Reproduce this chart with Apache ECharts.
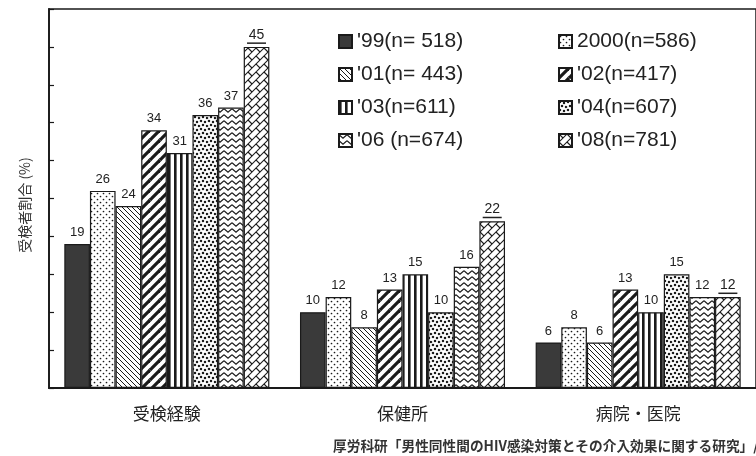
<!DOCTYPE html>
<html>
<head>
<meta charset="utf-8">
<script src="https://cdn.jsdelivr.net/npm/echarts@6/dist/echarts.min.js"></script>
<style>
html,body{margin:0;padding:0;background:#fff;}
#chart{width:756px;height:456px;}
</style>
</head>
<body>
<div id="chart"></div>
<script>
// ---- data ----
const categories = ['受検経験', '保健所', '病院・医院'];
const seriesNames = ["'99(n= 518)", "2000(n=586)", "'01(n= 443)", "'02(n=417)", "'03(n=611)", "'04(n=607)", "'06 (n=674)", "'08(n=781)"];
const v99 = [19, 10, 6];
const v00 = [26, 12, 8];
const v01 = [24, 8, 6];
const v02 = [34, 13, 13];
const v03 = [31, 15, 10];
const v04 = [36, 10, 15];
const v06 = [37, 16, 12];
const v08 = [45, 22, 12];
const yTicks = [0, 5, 10, 15, 20, 25, 30, 35, 40, 45, 50];
const yLabel = '受検者割合 (%)';
const sourceText = '厚労科研「男性同性間のHIV感染対策とその介入効果に関する研究」/';

// ---- patterns ----
const INK = '#1a1a1a';
function pattern(w, h, draw) {
  const c = document.createElement('canvas');
  c.width = w; c.height = h;
  const ctx = c.getContext('2d');
  ctx.fillStyle = '#fff';
  ctx.fillRect(0, 0, w, h);
  ctx.strokeStyle = INK;
  ctx.fillStyle = INK;
  for (const dx of [-w, 0, w]) {
    for (const dy of [-h, 0, h]) {
      ctx.save();
      ctx.translate(dx, dy);
      draw(ctx, w, h);
      ctx.restore();
    }
  }
  return { image: c, repeat: 'repeat' };
}
function dot(ctx, x, y, r) { ctx.beginPath(); ctx.arc(x, y, r, 0, Math.PI * 2); ctx.fill(); }

const p99 = '#3a3a3a';
const p00 = pattern(6, 6, (ctx) => { dot(ctx, 1.5, 1.5, 0.85); dot(ctx, 4.5, 4.5, 0.85); });
const p01 = pattern(5, 5, (ctx) => { ctx.lineWidth = 1; ctx.beginPath(); ctx.moveTo(0, 0); ctx.lineTo(5, 5); ctx.stroke(); });
const p02 = pattern(10, 10, (ctx) => { ctx.lineWidth = 3.2; ctx.beginPath(); ctx.moveTo(0, 10); ctx.lineTo(10, 0); ctx.stroke(); });
const p03 = pattern(6, 6, (ctx) => { ctx.fillRect(0, 0, 2.6, 6); });
const p04 = pattern(8, 8, (ctx) => { dot(ctx, 1, 1, 1.25); dot(ctx, 5, 2, 1.25); dot(ctx, 3, 5, 1.25); dot(ctx, 7, 6, 1.25); });
const p06 = pattern(8, 6, (ctx) => { ctx.lineWidth = 1.2; ctx.beginPath(); ctx.moveTo(0, 0.8); ctx.lineTo(4, 4.2); ctx.lineTo(8, 0.8); ctx.stroke(); });
const p08 = (function () {
  const T = 32;
  const c = document.createElement('canvas');
  c.width = T; c.height = T;
  const ctx = c.getContext('2d');
  ctx.fillStyle = '#fff'; ctx.fillRect(0, 0, T, T);
  ctx.strokeStyle = INK; ctx.lineWidth = 1.1;
  for (let k = -10; k <= 20; k++) {
    const u = 8 * k;
    ctx.beginPath(); ctx.moveTo(-40, u + 40); ctx.lineTo(80, u - 80); ctx.stroke();
    const par = ((k % 2) + 2) % 2;
    for (let m = -10; m <= 10; m++) {
      const v = 8 * par + 16 * m;
      ctx.beginPath();
      ctx.moveTo((u + v) / 2, (u - v) / 2);
      ctx.lineTo((u + 8 + v) / 2, (u + 8 - v) / 2);
      ctx.stroke();
    }
  }
  return { image: c, repeat: 'repeat' };
})();

const fills = [p99, p00, p01, p02, p03, p04, p06, p08];
const values = [v99, v00, v01, v02, v03, v04, v06, v08];

const FONT = "'Liberation Sans', 'Noto Sans CJK JP', sans-serif";
const CJK = "'Noto Sans CJK JP', sans-serif";

const series = seriesNames.map((name, i) => {
  const isLast = i === seriesNames.length - 1;
  return {
    name: name,
    type: 'bar',
    data: values[i],
    barGap: '0%',
    barCategoryGap: '13%',
    itemStyle: { color: fills[i], borderColor: INK, borderWidth: 1.2 },
    label: isLast ? {
      show: true, position: 'top', distance: 3,
      formatter: (p) => '{v|' + p.value + '}\n{u|}',
      rich: {
        v: { fontSize: 14, fontFamily: FONT, color: '#222', lineHeight: 15 },
        u: { width: 19, height: 1.5, backgroundColor: '#222' }
      }
    } : {
      show: true, position: 'top', distance: 5,
      fontSize: 13, fontFamily: FONT, color: '#222'
    }
  };
});

const legendCommon = {
  orient: 'vertical',
  itemWidth: 13, itemHeight: 13,
  itemGap: 12,
  icon: 'rect',
  textStyle: { fontSize: 21, fontFamily: FONT, color: '#222', padding: [0, 0, 0, 0] },
  selectedMode: false
};

const chart = echarts.init(document.getElementById('chart'), null, { renderer: 'canvas' });
chart.setOption({
  animation: false,
  backgroundColor: '#fff',
  grid: {
    left: 49, right: -2, top: 9, bottom: 68,
    show: true, borderColor: INK, borderWidth: 1.5, backgroundColor: 'transparent'
  },
  legend: [
    Object.assign({}, legendCommon, { data: [seriesNames[0], seriesNames[2], seriesNames[4], seriesNames[6]], left: 333, top: 26 }),
    Object.assign({}, legendCommon, { data: [seriesNames[1], seriesNames[3], seriesNames[5], seriesNames[7]], left: 553, top: 26 })
  ],
  xAxis: {
    type: 'category',
    data: categories,
    axisLine: { lineStyle: { color: INK, width: 1.8 } },
    axisTick: { show: false },
    axisLabel: { fontSize: 17, fontFamily: CJK, color: '#222', margin: 17 }
  },
  yAxis: {
    type: 'value',
    min: yTicks[0], max: yTicks[yTicks.length - 1], interval: yTicks[1] - yTicks[0],
    axisLine: { show: true, lineStyle: { color: INK, width: 1.8 } },
    axisTick: { show: true, inside: true, length: 5, lineStyle: { color: INK, width: 1.2 } },
    axisLabel: { show: false },
    splitLine: { show: false }
  },
  graphic: [{
    type: 'text', x: 25, y: 205, rotation: Math.PI / 2,
    style: { text: yLabel, fontSize: 14, fontFamily: CJK, fill: '#333', textAlign: 'center', textVerticalAlign: 'middle' }
  }, {
    type: 'text', left: 333, top: 439,
    style: { text: sourceText, fontSize: 13.7, fontWeight: 'bold', fontFamily: CJK, fill: '#333' }
  }],
  series: series
});
</script>
</body>
</html>
